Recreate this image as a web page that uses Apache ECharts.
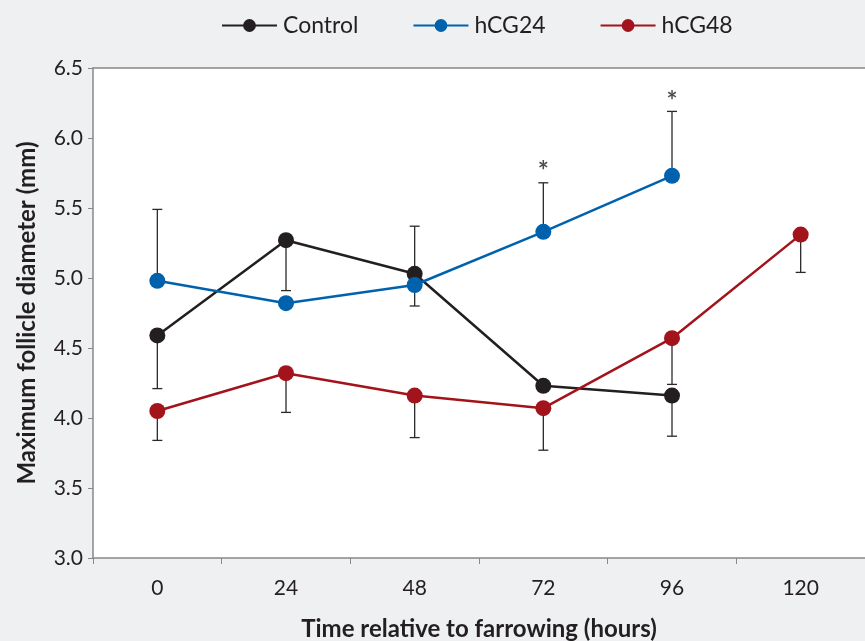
<!DOCTYPE html>
<html><head><meta charset="utf-8">
<script src="https://cdn.jsdelivr.net/npm/echarts@6/dist/echarts.min.js"></script>
<style>html,body{margin:0;padding:0;background:#eff0f2;}#c{width:865px;height:641px;}</style>
</head><body><div id="c"></div>
<script>
const categories = ['0', '24', '48', '72', '96', '120'];
const yTicks = [3.0, 3.5, 4.0, 4.5, 5.0, 5.5, 6.0, 6.5];
const controlVals = [4.59, 5.27, 5.03, 4.23, 4.16, null];
const hcg24Vals   = [4.98, 4.82, 4.95, 5.33, 5.73, null];
const hcg48Vals   = [4.05, 4.32, 4.16, 4.07, 4.57, 5.31];
// error bar end values (one-sided), null = no bar
const controlErr = [4.21, 4.91, 5.37, null, 3.87, null];
const hcg24Err   = [5.49, null, 4.80, 5.68, 6.19, null];
const hcg48Err   = [3.84, 4.04, 3.86, 3.77, 4.24, 5.04];
const sigCats = ['72', '96'];
const sigY = [5.76, 6.26];

const colors = {Control: '#231f20', hCG24: '#0062ad', hCG48: '#a3131b'};
const FONT = 'Lato';

function errData(vals, ends) {
  const out = [];
  vals.forEach((v, i) => { if (v != null && ends[i] != null) out.push([i, v, ends[i]]); });
  return out;
}
function errSeries(vals, ends) {
  return {
    type: 'custom', z: 1, silent: true,
    data: errData(vals, ends),
    renderItem: function (params, api) {
      const x = api.value(0);
      const p0 = api.coord([x, api.value(1)]);
      const p1 = api.coord([x, api.value(2)]);
      const w = 5;
      const st = {stroke: '#2a2a2a', lineWidth: 1.3};
      return {type: 'group', children: [
        {type: 'line', shape: {x1: p0[0], y1: p0[1], x2: p1[0], y2: p1[1]}, style: st},
        {type: 'line', shape: {x1: p1[0] - w, y1: p1[1], x2: p1[0] + w, y2: p1[1]}, style: st}
      ]};
    }
  };
}
function lineSeries(name, vals) {
  return {
    name: name, type: 'line', z: 3, data: vals,
    symbol: 'circle', symbolSize: 16, connectNulls: false,
    lineStyle: {color: colors[name], width: 2.5},
    itemStyle: {color: colors[name]},
    emphasis: {disabled: true}
  };
}

const chart = echarts.init(document.getElementById('c'));
chart.setOption({
  backgroundColor: '#eff0f2',
  animation: false,
  textStyle: {fontFamily: FONT},
  legend: {
    top: 9, left: 216, itemGap: 54, itemWidth: 55, itemHeight: 16,
    textStyle: {fontSize: 23, color: '#231f20', fontFamily: FONT, padding: [0, 0, 0, 1]},
    data: ['Control', 'hCG24', 'hCG48']
  },
  grid: {left: 93, right: 0, top: 68, bottom: 83, show: true, backgroundColor: '#ffffff', borderWidth: 0,
    containLabel: false, outerBoundsMode: 'none'},
  xAxis: [{
    type: 'category', data: categories, boundaryGap: true,
    axisLine: {lineStyle: {color: '#888', width: 1.5}},
    axisTick: {show: true, length: 6, lineStyle: {color: '#888'}},
    axisLabel: {fontSize: 21, color: '#231f20', margin: 20, fontFamily: FONT},
    name: 'Time relative to farrowing (hours)', nameLocation: 'middle', nameGap: 59,
    nameTextStyle: {fontSize: 24, fontWeight: 'bold', color: '#231f20', fontFamily: FONT}
  }, {
    type: 'category', data: categories, position: 'top',
    axisLine: {show: true, lineStyle: {color: '#888', width: 1.5}},
    axisTick: {show: false}, axisLabel: {show: false}
  }],
  yAxis: {
    type: 'value', min: 3.0, max: 6.5, interval: 0.5,
    axisLine: {show: true, lineStyle: {color: '#888', width: 1.5}},
    axisTick: {show: true, length: 5, lineStyle: {color: '#888'}},
    splitLine: {show: false},
    axisLabel: {fontSize: 21, color: '#231f20', margin: 10, fontFamily: FONT,
      formatter: v => yTicks.includes(+v.toFixed(1)) ? v.toFixed(1) : ''},
    name: 'Maximum follicle diameter (mm)', nameLocation: 'middle', nameGap: 54,
    nameTextStyle: {fontSize: 24, fontWeight: 'bold', color: '#231f20', fontFamily: FONT}
  },
  series: [
    errSeries(controlVals, controlErr),
    errSeries(hcg24Vals, hcg24Err),
    errSeries(hcg48Vals, hcg48Err),
    lineSeries('Control', controlVals),
    lineSeries('hCG24', hcg24Vals),
    lineSeries('hCG48', hcg48Vals),
    {
      type: 'scatter', symbolSize: 0, silent: true, z: 4,
      data: sigCats.map((c, i) => [c, sigY[i]]),
      label: {show: true, formatter: '*', position: 'inside', fontSize: 26, fontWeight: 'bold', color: '#231f20', fontFamily: FONT}
    }
  ]
});
</script></body></html>
